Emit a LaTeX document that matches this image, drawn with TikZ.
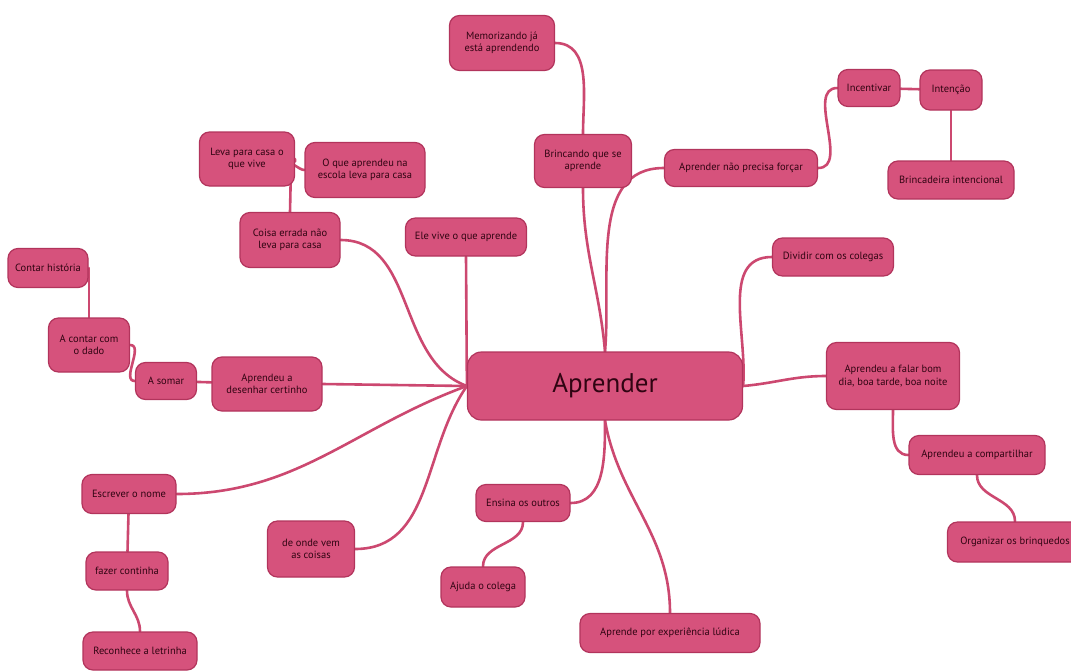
\documentclass[tikz,border=0pt]{standalone}
\usepackage{fontspec}
\setmainfont{PT Sans}
\usetikzlibrary{backgrounds}

\definecolor{mapfill}{RGB}{214,82,124}
\definecolor{mapedge}{RGB}{178,52,92}
\definecolor{mapline}{RGB}{204,72,112}
\definecolor{maptext}{RGB}{48,4,18}

\tikzset{
  idea/.style={draw=mapedge, fill=mapfill, line width=1.2pt, rounded corners=10pt,
    text=maptext, font=\fontsize{10.5}{12.5}\selectfont, align=center, inner sep=3pt},
  link/.style={draw=mapline, line width=2.6pt, line cap=round}
}

\begin{document}
\begin{tikzpicture}[x=1pt,y=-1pt]
                \useasboundingbox (0,0) rectangle (1071,670);

                % centre
                \node[idea, minimum width=275pt, minimum height=68pt, rounded corners=14pt,
                      font=\fontsize{27}{32}\selectfont] (aprender) at (605,386) {Aprender};

                % top
                \node[idea, minimum width=105pt, minimum height=55pt] (memo) at (502,43) {Memorizando já\\está aprendendo};
                \node[idea, minimum width=97pt, minimum height=53pt] (brinc) at (583,161) {Brincando que se\\aprende};
                \node[idea, minimum width=153pt, minimum height=37pt] (forcar) at (741,168) {Aprender não precisa forçar};
                \node[idea, minimum width=62pt, minimum height=37pt] (incent) at (869,88) {Incentivar};
                \node[idea, minimum width=62pt, minimum height=40pt] (intenc) at (951,90) {Intenção};
                \node[idea, minimum width=126pt, minimum height=38pt] (brincint) at (951,180) {Brincadeira intencional};

                % right
                \node[idea, minimum width=121pt, minimum height=38pt] (dividir) at (833,257) {Dividir com os colegas};
                \node[idea, minimum width=133pt, minimum height=67pt] (falar) at (893,376) {Aprendeu a falar bom\\dia, boa tarde, boa noite};
                \node[idea, minimum width=136pt, minimum height=39pt] (compart) at (977,455) {Aprendeu a compartilhar};
                \node[idea, minimum width=135pt, minimum height=40pt] (organiz) at (1015,542) {Organizar os brinquedos};

                % left
                \node[idea, minimum width=121pt, minimum height=38pt] (elevive) at (466,237) {Ele vive o que aprende};
                \node[idea, minimum width=100pt, minimum height=55pt] (coisa) at (290,240) {Coisa errada não\\leva para casa};
                \node[idea, minimum width=120pt, minimum height=55pt] (oque) at (365,170) {O que aprendeu na\\escola leva para casa};
                \node[idea, minimum width=95pt, minimum height=54pt] (leva) at (247,159) {Leva para casa o\\que vive};
                \coordinate (fork) at (291,166);
                \node[idea, minimum width=80pt, minimum height=39pt] (historia) at (48,268) {Contar história};
                \node[idea, minimum width=81pt, minimum height=54pt] (dado) at (89,345) {A contar com\\o dado};
                \node[idea, minimum width=61pt, minimum height=37pt] (somar) at (166,381) {A somar};
                \node[idea, minimum width=110pt, minimum height=54pt] (desenhar) at (267,384) {Aprendeu a\\desenhar certinho};

                % bottom
                \node[idea, minimum width=94pt, minimum height=39pt] (escrever) at (129,494) {Escrever o nome};
                \node[idea, minimum width=82pt, minimum height=38pt] (continha) at (127,571) {fazer continha};
                \node[idea, minimum width=114pt, minimum height=38pt] (letrinha) at (140,651) {Reconhece a letrinha};
                \node[idea, minimum width=87pt, minimum height=56pt] (deonde) at (311,549) {de onde vem\\as coisas};
                \node[idea, minimum width=94pt, minimum height=37pt] (ensina) at (523,503) {Ensina os outros};
                \node[idea, minimum width=84pt, minimum height=40pt] (ajuda) at (483,587) {Ajuda o colega};
                \node[idea, minimum width=180pt, minimum height=39pt] (ludica) at (670,633) {Aprende por experiência lúdica};

                \begin{pgfonlayer}{background}
                % branches from the centre
                \draw[link] (aprender.north) to[out=95,in=-90] (brinc.south);
                \draw[link] (aprender.north) to[out=85,in=180] (forcar.west);
                \draw[link] (aprender.east) to[out=85,in=180] (dividir.west);
                \draw[link] (aprender.east) to[out=5,in=180] (falar.west);
                \draw[link] (aprender.south) to[out=-90,in=0] (ensina.east);
                \draw[link] (aprender.south) to[out=-80,in=90] (ludica.north);
                \draw[link] (aprender.west) -- (elevive.south);
                \draw[link] (aprender.west) to[out=160,in=0] (coisa.east);
                \draw[link] (aprender.west) -- (desenhar.east);
                \draw[link] (aprender.west) to[out=200,in=0] (escrever.east);
                \draw[link] (aprender.west) to[out=235,in=0] (deonde.east);

                % sub-branches
                \draw[link] (brinc.north) to[out=90,in=0] (memo.east);
                \draw[link] (forcar.east) to[out=0,in=180] (incent.west);
                \draw[link] (incent) -- (intenc);
                \draw[link] (intenc) -- (brincint);
                \draw[link] (falar.south) to[out=-90,in=180] (compart.west);
                \draw[link] (compart.south) to[out=-90,in=90] (organiz.north);
                \draw[link] (coisa.north) -- (fork) to[out=90,in=180] (oque.west);
                \draw[link] (fork) to[out=90,in=-60] (leva.east);
                \draw[link] (desenhar) -- (somar);
                \draw[link] (somar.west) to[out=180,in=0] (dado.east);
                \draw[link] (dado.north) -- (dado.north |- historia.east);
                \draw[link] (escrever) -- (continha);
                \draw[link] (continha.south) to[out=-90,in=90] (letrinha.north);
                \draw[link] (ensina.south) to[out=-90,in=90] (ajuda.north);
                \end{pgfonlayer}

            \end{tikzpicture}
\end{document}
